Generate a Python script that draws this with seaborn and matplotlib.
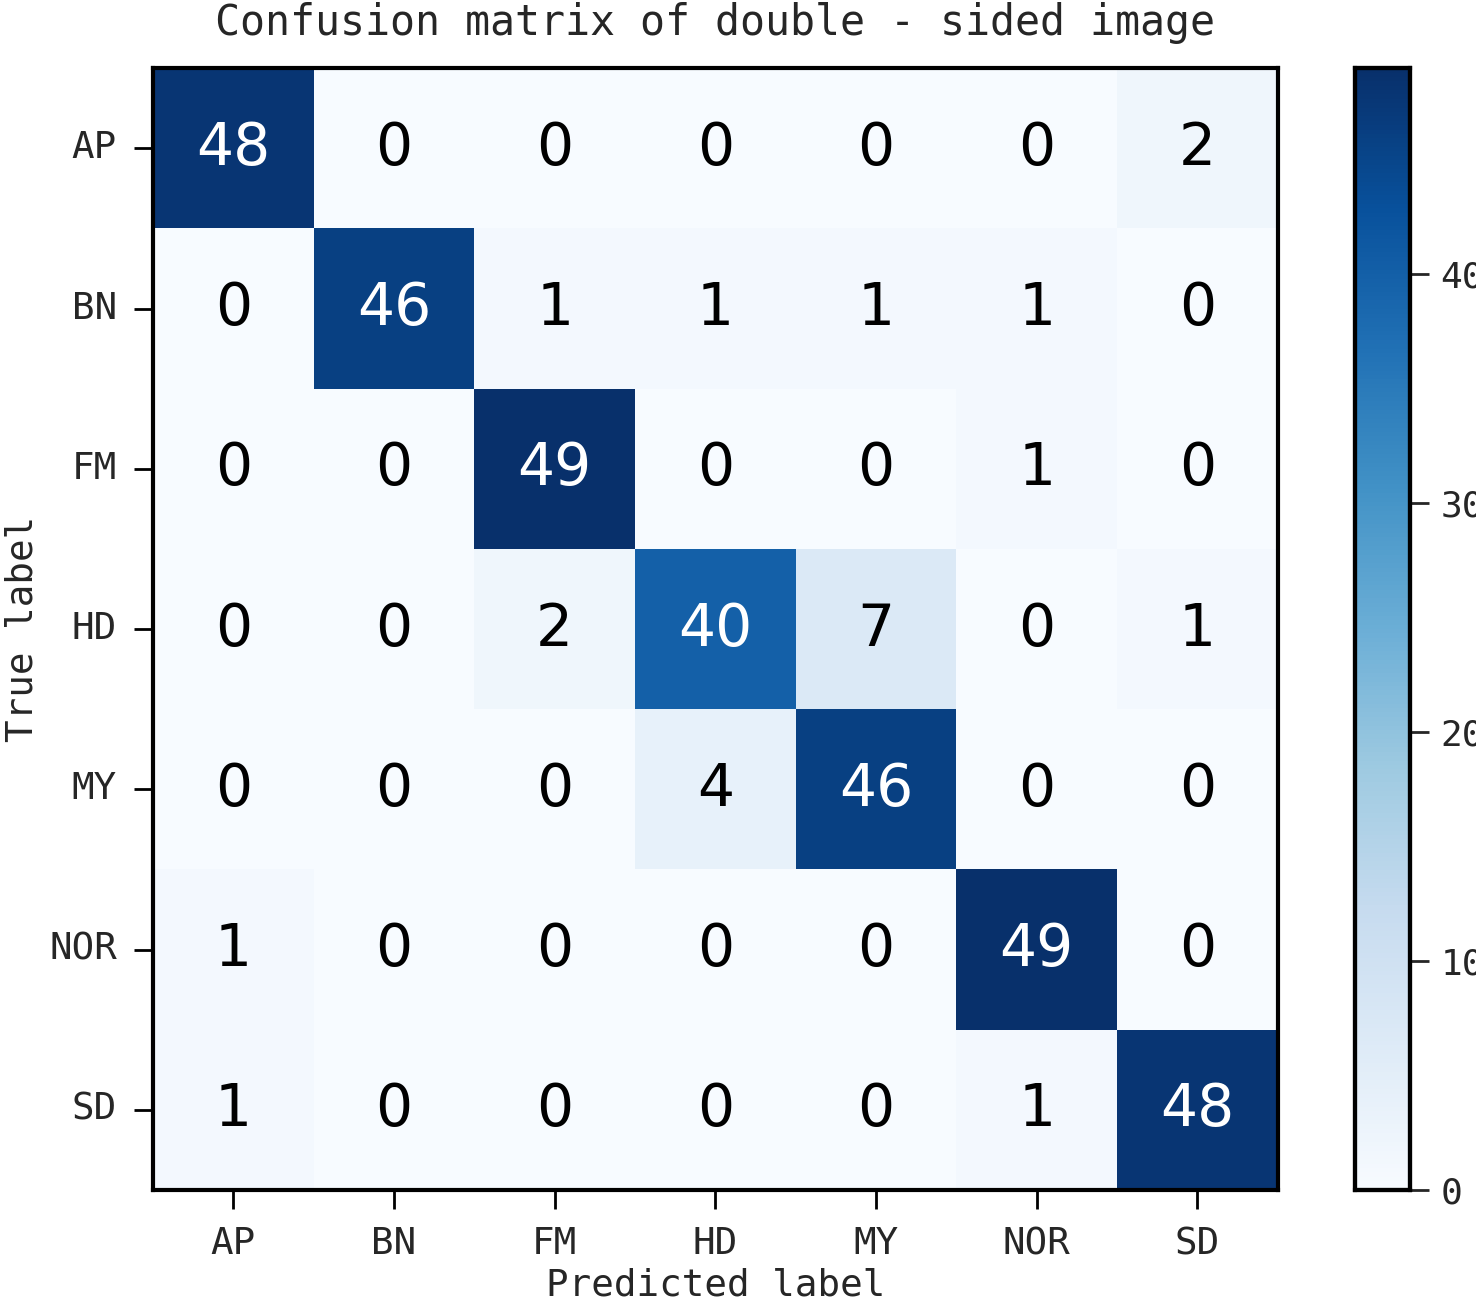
import numpy as np
import matplotlib
matplotlib.use("Agg")
import matplotlib.pyplot as plt
import seaborn as sns

# Class names and confusion counts (rows = true, cols = predicted)
classes = ["AP", "BN", "FM", "HD", "MY", "NOR", "SD"]
row_ap = [48, 0, 0, 0, 0, 0, 2]
row_bn = [0, 46, 1, 1, 1, 1, 0]
row_fm = [0, 0, 49, 0, 0, 1, 0]
row_hd = [0, 0, 2, 40, 7, 0, 1]
row_my = [0, 0, 0, 4, 46, 0, 0]
row_nor = [1, 0, 0, 0, 0, 49, 0]
row_sd = [1, 0, 0, 0, 0, 1, 48]
cbar_ticks = [0, 10, 20, 30, 40]

cm = np.array([row_ap, row_bn, row_fm, row_hd, row_my, row_nor, row_sd])

sns.set_style("white")
plt.rcParams['font.family'] = ['DejaVu Sans Mono', 'DejaVu Sans']

fig = plt.figure(figsize=(14.76, 13.06), dpi=100)
ax = fig.add_axes([0.1037, 0.0888, 0.762, 0.859])
cax = fig.add_axes([0.918, 0.0888, 0.0373, 0.859])

sns.heatmap(cm, ax=ax, cbar_ax=cax, cmap="Blues", vmin=0, vmax=cm.max(),
            annot=False, linewidths=0, cbar_kws={"ticks": cbar_ticks})

# Cell annotations, white on dark cells
thresh = cm.max() / 2.0
for i in range(cm.shape[0]):
    for j in range(cm.shape[1]):
        ax.text(j + 0.5, i + 0.5, str(cm[i, j]), ha="center", va="center",
                fontsize=42, family=['DejaVu Sans', 'DejaVu Sans Mono'],
                color="white" if cm[i, j] > thresh else "black")

ax.set_xticks(np.arange(len(classes)) + 0.5)
ax.set_yticks(np.arange(len(classes)) + 0.5)
ax.set_xticklabels(classes, fontsize=27, rotation=0)
ax.set_yticklabels(classes, fontsize=27, rotation=0)
ax.tick_params(axis="both", which="both", length=14, width=2, direction="out",
               bottom=True, left=True, color="black", pad=12)
for s in ax.spines.values():
    s.set_visible(True)
    s.set_linewidth(3)
    s.set_color("black")

ax.set_title("Confusion matrix of double - sided image", fontsize=30, pad=24)
ax.set_xlabel("Predicted label", fontsize=27, labelpad=4)
ax.set_ylabel("True label", fontsize=27, labelpad=6)

cax.tick_params(length=14, width=2, labelsize=26, pad=8)
cax.yaxis.set_ticks_position("right")
for s in cax.spines.values():
    s.set_visible(True)
    s.set_linewidth(3)
    s.set_color("black")

fig.savefig("out.png", dpi=100)
